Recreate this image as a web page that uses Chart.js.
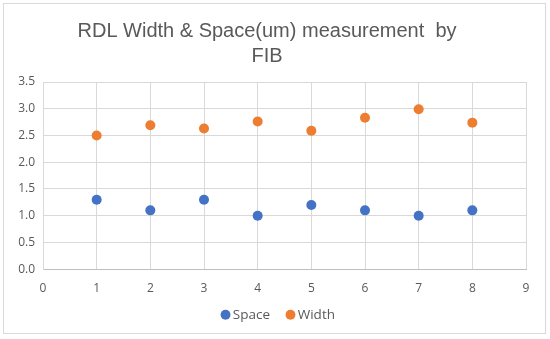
<!DOCTYPE html>
<html>
<head>
<meta charset="utf-8">
<script src="https://cdn.jsdelivr.net/npm/chart.js@4/dist/chart.umd.min.js"></script>
<style>
html,body{margin:0;padding:0;background:#fff;}
#wrap{position:absolute;left:0;top:0;width:550px;height:339px;}
#frame{position:absolute;left:3px;top:3px;width:541px;height:329px;border:1px solid #d9d9d9;pointer-events:none;}
</style>
</head>
<body>
<div id="wrap"><canvas id="c" width="550" height="339"></canvas><div id="frame"></div></div>
<script>
const titleLines = ["RDL Width & Space(um) measurement  by", "FIB"];
const xValues = [1, 2, 3, 4, 5, 6, 7, 8];
const spaceValues = [1.3, 1.1, 1.3, 1.0, 1.2, 1.1, 1.0, 1.1];
const widthValues = [2.5, 2.69, 2.63, 2.76, 2.59, 2.83, 2.99, 2.74];
const seriesNames = ["Space", "Width"];
const seriesColors = ["#4472C4", "#ED7D31"];

const toPoints = (ys) => xValues.map((x, i) => ({x: x, y: ys[i]}));

// Places the legend row where the reference has it (centred on the whole chart, not the plot).
const legendPlace = {
  id: 'legendPlace',
  afterLayout(chart) {
    const lg = chart.legend;
    if (!lg) return;
    const h = lg.bottom - lg.top;
    lg.top = 288;
    lg.bottom = lg.top + h;
    lg.left += 26;
  }
};

const ctx = document.getElementById('c');
new Chart(ctx, {
  type: 'scatter',
  data: {
    datasets: [
      {label: seriesNames[0], data: toPoints(spaceValues), backgroundColor: seriesColors[0], borderColor: seriesColors[0], pointRadius: 5, pointHoverRadius: 5, borderWidth: 0},
      {label: seriesNames[1], data: toPoints(widthValues), backgroundColor: seriesColors[1], borderColor: seriesColors[1], pointRadius: 5, pointHoverRadius: 5, borderWidth: 0}
    ]
  },
  plugins: [legendPlace],
  options: {
    responsive: false,
    animation: false,
    devicePixelRatio: 1,
    layout: {padding: {left: 8, right: 24, top: 19, bottom: 0}},
    plugins: {
      title: {
        display: true,
        text: titleLines,
        color: '#595959',
        font: {family: 'Liberation Sans, Arial, sans-serif', size: 20, weight: 'normal', lineHeight: 1.25},
        padding: {top: 0, bottom: 13}
      },
      legend: {
        position: 'bottom',
        labels: {
          usePointStyle: true,
          pointStyle: 'circle',
          boxWidth: 1,
          boxHeight: 7,
          padding: 20,
          color: '#595959',
          font: {family: 'Open Sans, sans-serif', size: 13.5}
        }
      },
      tooltip: {enabled: false}
    },
    scales: {
      x: {
        type: 'linear',
        min: 0, max: 9,
        ticks: {stepSize: 1, color: '#595959', font: {family: 'Open Sans, sans-serif', size: 12}, padding: 12},
        grid: {color: '#d9d9d9', drawTicks: false},
        border: {color: '#bfbfbf'},
        afterFit: (s) => { s.height = 26.3; }
      },
      y: {
        min: 0, max: 3.5,
        ticks: {stepSize: 0.5, color: '#595959', font: {family: 'Open Sans, sans-serif', size: 12}, padding: 8,
          callback: (v) => Number(v).toFixed(1)},
        grid: {color: '#d9d9d9', drawTicks: false},
        border: {color: '#d9d9d9'},
        afterFit: (s) => { s.width = 35; }
      }
    }
  }
});
</script>
</body>
</html>
